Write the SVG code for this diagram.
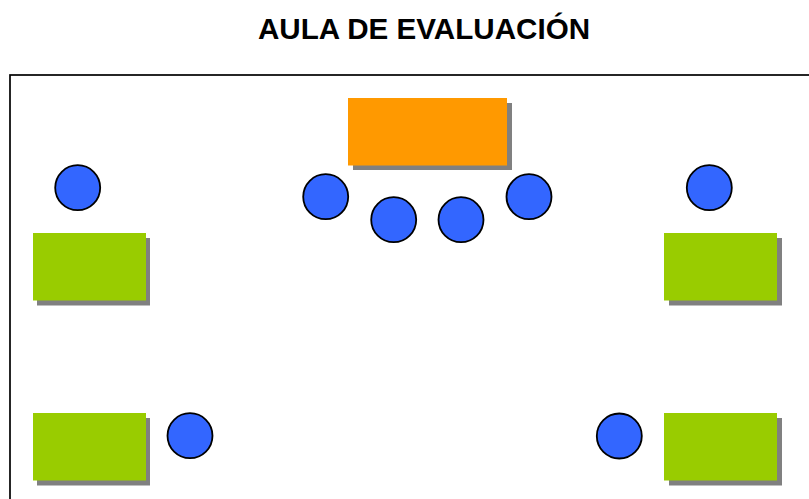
<svg xmlns="http://www.w3.org/2000/svg" width="809" height="499" viewBox="0 0 809 499">
<style>
.shadow{fill:#808080}
.desk{fill:#99CC00}
.teacher{fill:#FF9900}
.person{fill:#3366FF;stroke:#000;stroke-width:1.8}
.title{font-family:"Liberation Sans",Arial,sans-serif;font-weight:bold;font-size:29.6px;fill:#000}
</style>
<rect width="809" height="499" fill="#fff"/>
<text class="title" x="424" y="38.5" text-anchor="middle">AULA DE EVALUACIÓN</text>
<rect id="room" x="10" y="75" width="830" height="460" fill="none" stroke="#000" stroke-width="1.7"/>
<g id="teacher-desk">
<rect class="shadow" x="353" y="103" width="159" height="67"/>
<rect class="teacher" x="348" y="98" width="159" height="67.5"/>
</g>
<g id="desk-top-left">
<rect class="shadow" x="37" y="238" width="113" height="67.5"/>
<rect class="desk" x="33" y="233" width="113" height="67.5"/>
</g>
<g id="desk-top-right">
<rect class="shadow" x="669" y="238" width="113" height="67.5"/>
<rect class="desk" x="664" y="233" width="113" height="67.5"/>
</g>
<g id="desk-bottom-left">
<rect class="shadow" x="37" y="418" width="113" height="67.5"/>
<rect class="desk" x="33" y="413" width="113" height="67.5"/>
</g>
<g id="desk-bottom-right">
<rect class="shadow" x="669" y="418" width="113" height="67.5"/>
<rect class="desk" x="664" y="413" width="113" height="67.5"/>
</g>
<g id="person-1"><circle class="person" cx="77.7" cy="187.7" r="22.5"/></g>
<g id="person-2"><circle class="person" cx="709.3" cy="187.7" r="22.5"/></g>
<g id="person-3"><circle class="person" cx="325.7" cy="196.7" r="22.5"/></g>
<g id="person-4"><circle class="person" cx="393.7" cy="219.7" r="22.5"/></g>
<g id="person-5"><circle class="person" cx="461" cy="219.7" r="22.5"/></g>
<g id="person-6"><circle class="person" cx="529" cy="196.7" r="22.5"/></g>
<g id="person-7"><circle class="person" cx="190" cy="435.7" r="22.5"/></g>
<g id="person-8"><circle class="person" cx="619.3" cy="436" r="22.5"/></g>
<g id="connectors"></g>
</svg>
